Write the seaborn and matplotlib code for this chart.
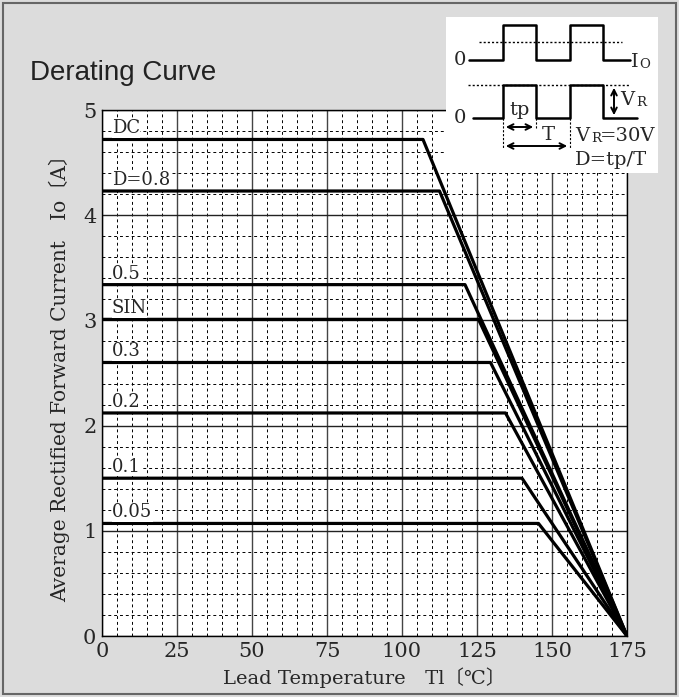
import pandas as pd
import seaborn as sns
import matplotlib.pyplot as plt
from matplotlib.patches import Rectangle, FancyArrowPatch

# Derating curves: flat current up to the knee temperature, then linear to 0 A at 175 C
labels = ['DC', 'D=0.8', '0.5', 'SIN', '0.3', '0.2', '0.1', '0.05']
currents = [4.72, 4.23, 3.34, 3.01, 2.60, 2.12, 1.50, 1.07]
knee_temps = [107, 112.5, 121, 125.5, 129.5, 134.5, 140, 145.5]
t_start = 0
t_end = 175

x_ticks = [0, 25, 50, 75, 100, 125, 150, 175]
y_ticks = [0, 1, 2, 3, 4, 5]

# Inset waveform sketch (inset pixel space)
io_wave_x = [469, 503, 503, 536, 536, 570, 570, 603, 603, 630]
io_wave_y = [60, 60, 25, 25, 60, 60, 25, 25, 60, 60]
vr_wave_x = [473, 503, 503, 536, 536, 570, 570, 603, 603, 637]
vr_wave_y = [118, 118, 85, 85, 118, 118, 85, 85, 118, 118]

rows = []
for lab, cur, knee in zip(labels, currents, knee_temps):
    rows.append({'label': lab, 'T': t_start, 'Io': cur})
    rows.append({'label': lab, 'T': knee, 'Io': cur})
    rows.append({'label': lab, 'T': t_end, 'Io': 0})
df = pd.DataFrame(rows)

sns.set_theme(style="white")
serif = ['DejaVu Serif', 'Noto Sans CJK JP']
plt.rcParams['font.family'] = serif

fig = plt.figure(figsize=(6.79, 6.97), dpi=100, facecolor='#dcdcdc')
ax = fig.add_axes([102 / 679, 1 - 636 / 697, 525 / 679, 526 / 697])
ax.set_facecolor('white')

# grid: solid every 25 C / 1 A, dashed every 5 C / 0.2 A
for x in range(0, 176, 5):
    if x % 25 == 0:
        ax.axvline(x, color='#444444', lw=1.0, zorder=1)
    else:
        ax.axvline(x, color='black', lw=0.7, ls=(0, (3, 3)), zorder=1)
for i in range(0, 26):
    y = i * 0.2
    if i % 5 == 0:
        ax.axhline(y, color='#222222', lw=1.0, zorder=1)
    else:
        ax.axhline(y, color='black', lw=0.7, ls=(0, (3, 3)), zorder=1)

sns.lineplot(data=df, x='T', y='Io', units='label', estimator=None, sort=False,
             color='black', lw=2.3, ax=ax, zorder=3)

for lab, cur in zip(labels, currents):
    ax.text(3.3, cur + 0.02, lab, fontsize=13, va='bottom', ha='left', family=serif,
            bbox=dict(facecolor='white', edgecolor='none', pad=0.3), zorder=4)

ax.set_xlim(0, 175)
ax.set_ylim(0, 5)
ax.set_xticks(x_ticks)
ax.set_yticks(y_ticks)
ax.tick_params(axis='both', length=0, labelsize=15, pad=4)
ax.set_xlabel('Lead Temperature\u3000Tl\u3014\u2103\u3015', fontsize=14, labelpad=5)
ax.set_ylabel('Average Rectified Forward Current\u3000Io\u3014A\u3015', fontsize=14.5, labelpad=9)
for s in ax.spines.values():
    s.set_color('black')
    s.set_linewidth(1.0)

fig.text(30 / 679, 1 - 73 / 697, 'Derating Curve', fontsize=20, family='Liberation Sans',
         va='center', ha='left', color='#222222')

# outer frame
fig.patches.append(Rectangle((0.004, 0.004), 0.992, 0.992, transform=fig.transFigure,
                             fill=False, edgecolor='#666666', lw=1.5))

# inset
ins = fig.add_axes([446 / 679, 1 - 173 / 697, 212 / 679, 156 / 697], zorder=10)
ins.set_facecolor('white')
ins.set_xlim(446, 658)
ins.set_ylim(173, 17)
ins.set_xticks([])
ins.set_yticks([])
for s in ins.spines.values():
    s.set_visible(False)
ins.plot(io_wave_x, io_wave_y, color='black', lw=1.8)
ins.plot(vr_wave_x, vr_wave_y, color='black', lw=1.8)
ins.plot([479, 622], [42, 42], color='black', lw=1.0, ls=(0, (1.5, 1.5)))
ins.plot([468, 630], [85, 85], color='black', lw=1.0, ls=(0, (1.5, 1.5)))
for xv, yb in [(503, 148), (570, 148)]:
    ins.plot([xv, xv], [118, yb], color='black', lw=0.8, ls=(0, (2, 1.5)))
ins.plot([536, 536], [118, 128], color='black', lw=0.8, ls=(0, (2, 1.5)))
for (x0, y0, x1, y1) in [(503, 127, 536, 127), (503, 146, 570, 146), (614, 85, 614, 118)]:
    ins.add_patch(FancyArrowPatch((x0, y0), (x1, y1), arrowstyle='<->', mutation_scale=10,
                                  color='black', lw=1.4))
ins.text(460, 60, '0', fontsize=14, ha='center', va='center', family=serif)
ins.text(460, 118, '0', fontsize=14, ha='center', va='center', family=serif)
ins.text(631, 62, 'I', fontsize=14, ha='left', va='center', family=serif)
ins.text(639, 64, 'O', fontsize=9.5, ha='left', va='center', family=serif)
ins.text(620, 100, 'V', fontsize=14, ha='left', va='center', family=serif)
ins.text(636, 103, 'R', fontsize=9.5, ha='left', va='center', family=serif)
ins.text(520, 110, 'tp', fontsize=14, ha='center', va='center', family=serif)
ins.text(548, 135, 'T', fontsize=14, ha='center', va='center', family=serif)
ins.text(575, 136, 'V', fontsize=14, ha='left', va='center', family=serif)
ins.text(591, 138, 'R', fontsize=9.5, ha='left', va='center', family=serif)
ins.text(600, 136, '=30V', fontsize=14, ha='left', va='center', family=serif)
ins.text(575, 160, 'D=tp/T', fontsize=14, ha='left', va='center', family=serif)

fig.savefig('out.png', dpi=100, facecolor=fig.get_facecolor())
